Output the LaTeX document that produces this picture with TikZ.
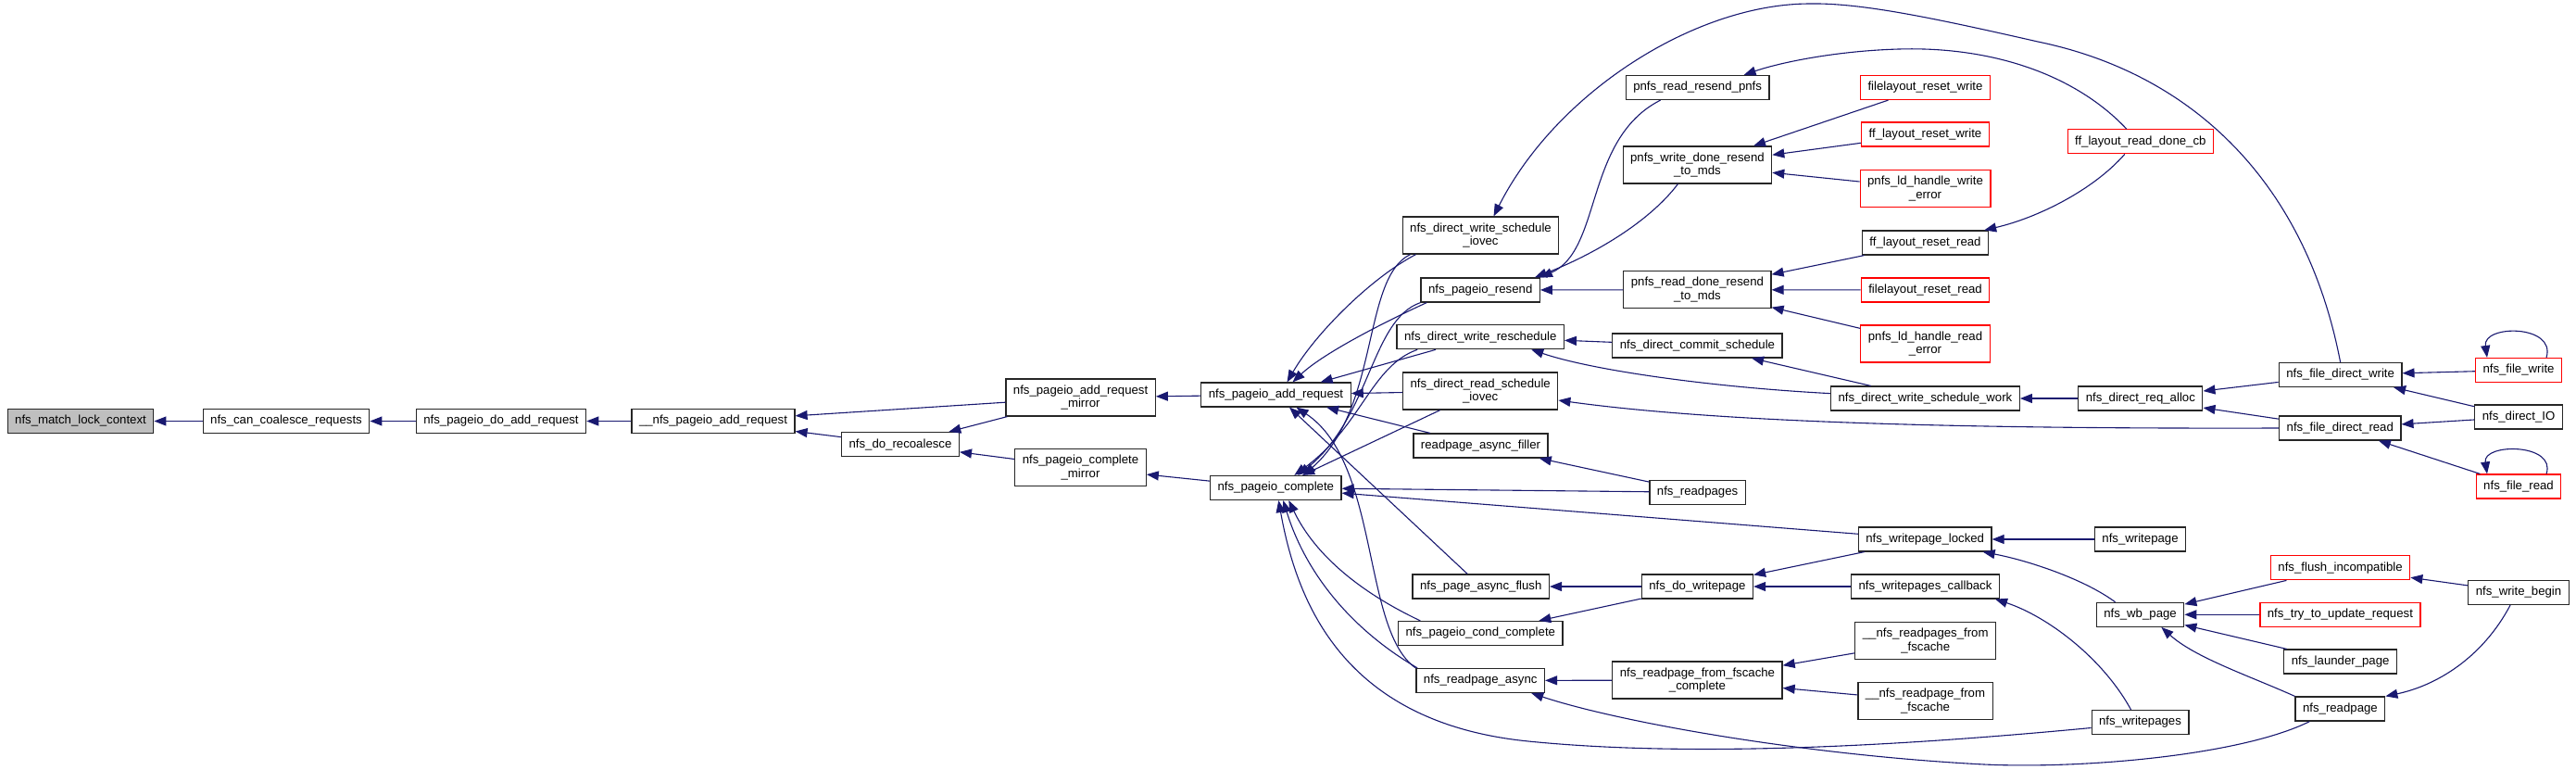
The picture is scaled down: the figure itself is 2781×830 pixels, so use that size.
\documentclass[tikz,border=0pt]{standalone}
\usepackage{fontspec}
\usepackage{tikz}
\usetikzlibrary{arrows.meta}
\newfontfamily\fnfont{Liberation Sans}
\definecolor{edgeblue}{RGB}{25,25,112}
\definecolor{rootgray}{RGB}{191,191,191}
\tikzset{
  fn/.style={draw=black!85, fill=white, line width=1.2pt, rectangle, align=center,
    inner xsep=8pt, inner ysep=2pt, minimum height=26pt,
    font=\fnfont\fontsize{13.2}{14.5}\selectfont},
  fntwo/.style={fn, minimum height=40pt},
  cut/.style={fn, draw=red},
  cuttwo/.style={fntwo, draw=red},
  rootfn/.style={fn, fill=rootgray},
  call/.style={draw=edgeblue, line width=1.1pt, -{Triangle[length=13pt,width=10pt]}}
}

\begin{document}
\begin{tikzpicture}[x=1pt,y=-1pt]
\useasboundingbox (0,0) rectangle (2781,830);
% functions, column by column
\node[rootfn] (match) at (87,454.5) {nfs\_match\_lock\_context};
\node[fn] (can) at (309,454.5) {nfs\_can\_coalesce\_requests};
\node[fn] (doadd) at (541,454.5) {nfs\_pageio\_do\_add\_request};
\node[fn] (uadd) at (770,454.5) {\_\_nfs\_pageio\_add\_request};
\node[fn] (recoal) at (972,479.6) {nfs\_do\_recoalesce};
\node[fntwo] (addmir) at (1166.6,429) {nfs\_pageio\_add\_request\\\_mirror};
\node[fntwo] (compmir) at (1166.5,504.7) {nfs\_pageio\_complete\\\_mirror};
\node[fn] (addreq) at (1377.5,426) {nfs\_pageio\_add\_request};
\node[fn] (complete) at (1377.3,526.5) {nfs\_pageio\_complete};
\node[fntwo] (dwsiovec) at (1598.5,254) {nfs\_direct\_write\_schedule\\\_iovec};
\node[fn] (resend) at (1598.2,313) {nfs\_pageio\_resend};
\node[fn] (dwresched) at (1598.2,363.7) {nfs\_direct\_write\_reschedule};
\node[fntwo] (drsiovec) at (1598.2,422) {nfs\_direct\_read\_schedule\\\_iovec};
\node[fn] (rpfiller) at (1598.5,481) {readpage\_async\_filler};
\node[fn] (pgflush) at (1598.7,633) {nfs\_page\_async\_flush};
\node[fn] (condcomp) at (1598.3,683.5) {nfs\_pageio\_cond\_complete};
\node[fn] (rpasync) at (1598.2,734.5) {nfs\_readpage\_async};
\node[fn] (readresend) at (1832.6,94.5) {pnfs\_read\_resend\_pnfs};
\node[fntwo] (wdone) at (1832.4,178) {pnfs\_write\_done\_resend\\\_to\_mds};
\node[fntwo] (rdone) at (1832.4,312.7) {pnfs\_read\_done\_resend\\\_to\_mds};
\node[fn] (commit) at (1832.4,373) {nfs\_direct\_commit\_schedule};
\node[fn] (readpages) at (1832.6,531.3) {nfs\_readpages};
\node[fn] (dowrite) at (1832.4,633) {nfs\_do\_writepage};
\node[fntwo] (fscomp) at (1832.4,734) {nfs\_readpage\_from\_fscache\\\_complete};
\node[cut] (flwrite) at (2078.5,94.5) {filelayout\_reset\_write};
\node[cut] (ffwrite) at (2078.5,145) {ff\_layout\_reset\_write};
\node[cuttwo] (ldwrite) at (2078.5,203.3) {pnfs\_ld\_handle\_write\\\_error};
\node[fn] (ffread) at (2078.5,262) {ff\_layout\_reset\_read};
\node[cut] (flread) at (2078.5,313) {filelayout\_reset\_read};
\node[cuttwo] (ldread) at (2078.5,371) {pnfs\_ld\_handle\_read\\\_error};
\node[fn] (dwswork) at (2078.4,430) {nfs\_direct\_write\_schedule\_work};
\node[fn] (wplocked) at (2078.2,582) {nfs\_writepage\_locked};
\node[fn] (wpcallback) at (2078.5,633) {nfs\_writepages\_callback};
\node[fntwo] (rpsfs) at (2078.7,691.7) {\_\_nfs\_readpages\_from\\\_fscache};
\node[fntwo] (rpfs) at (2078.5,756.7) {\_\_nfs\_readpage\_from\\\_fscache};
\node[cut] (donecb) at (2310.8,152.8) {ff\_layout\_read\_done\_cb};
\node[fn] (reqalloc) at (2310.8,430) {nfs\_direct\_req\_alloc};
\node[fn] (writepage) at (2310.5,582) {nfs\_writepage};
\node[fn] (wbpage) at (2310.5,663.3) {nfs\_wb\_page};
\node[fn] (writepages) at (2310.5,779.5) {nfs\_writepages};
\node[fn] (fdwrite) at (2526.6,404.5) {nfs\_file\_direct\_write};
\node[fn] (fdread) at (2526.3,462) {nfs\_file\_direct\_read};
\node[cut] (flushinc) at (2526.6,612.8) {nfs\_flush\_incompatible};
\node[cut] (tryupd) at (2526.4,663.3) {nfs\_try\_to\_update\_request};
\node[fn] (launder) at (2526.6,714) {nfs\_launder\_page};
\node[fn] (readpage) at (2526.4,765) {nfs\_readpage};
\node[cut] (filewrite) at (2719,399.5) {nfs\_file\_write};
\node[fn] (directio) at (2719,450) {nfs\_direct\_IO};
\node[cut] (fileread) at (2719,525) {nfs\_file\_read};
\node[fn] (writebegin) at (2719,639.5) {nfs\_write\_begin};
% straight calls, caller/callee
\foreach \a/\b in {can/match, doadd/can, uadd/doadd, addmir/uadd, recoal/uadd,
  addmir/recoal, compmir/recoal, addreq/addmir, complete/compmir,
  dwresched/addreq, drsiovec/addreq, rpfiller/addreq, pgflush/addreq,
  drsiovec/complete, readpages/complete, wplocked/complete,
  rdone/resend, flwrite/wdone, ffwrite/wdone, ldwrite/wdone,
  ffread/rdone, flread/rdone, ldread/rdone,
  commit/dwresched, dwswork/commit, reqalloc/dwswork, fdwrite/reqalloc, fdread/reqalloc,
  filewrite/fdwrite, directio/fdwrite, directio/fdread, fileread/fdread,
  readpages/rpfiller, dowrite/pgflush, dowrite/condcomp, wplocked/dowrite,
  wpcallback/dowrite, writepage/wplocked, fscomp/rpasync, rpsfs/fscomp, rpfs/fscomp,
  flushinc/wbpage, tryupd/wbpage, launder/wbpage, writebegin/flushinc}
  \draw[call] (\a) -- (\b);
% curved calls
\draw[call] (fdwrite.north) .. controls (2490,200) and (2370,80) .. (2200,45)
  .. controls (2090,20) and (2010,3) .. (1954,4)
  .. controls (1830,4) and (1680,100) .. ([xshift=14pt]dwsiovec.north);
\draw[call] ([xshift=-15pt]donecb.north) .. controls (2240,80) and (2150,50) .. (2050,53)
  .. controls (1980,55) and (1920,68) .. ([xshift=50pt]readresend.north);
\draw[call] ([xshift=-40pt]readresend.south) .. controls (1710,150) and (1730,270) .. (resend.north east);
\draw[call] ([xshift=-21pt]wdone.south) .. controls (1780,240) and (1720,275) .. ([xshift=-6pt]resend.north east);
\draw[call] ([xshift=-17pt]donecb.south) .. controls (2260,205) and (2200,235) .. ([xshift=-5pt]ffread.north east);
\draw[call] (dwswork.177) .. controls (1850,418) and (1720,400) .. ([xshift=55pt]dwresched.south);
\draw[call] (fdread.west) .. controls (2100,463) and (1850,455) .. ([yshift=-10pt]drsiovec.east);
\draw[call] ([xshift=-27pt]wbpage.north) .. controls (2250,625) and (2190,605) .. ([xshift=-10pt]wplocked.south east);
\draw[call] ([xshift=-10pt]writepages.north) .. controls (2270,710) and (2210,665) .. ([xshift=-5pt]wpcallback.south east);
\draw[call] (readpage.north west) .. controls (2430,730) and (2370,710) .. ([xshift=-25pt]wbpage.south east);
\draw[call] ([xshift=-9pt]writebegin.south) .. controls (2680,710) and (2630,740) .. (readpage.north east);
\draw[call] ([xshift=-33pt]readpage.south) .. controls (2420,815) and (2250,830) .. (2142,825)
  .. controls (1950,815) and (1750,780) .. ([xshift=55pt]rpasync.south);
\draw[call] ([yshift=-6pt]writepages.west) .. controls (2000,810) and (1800,815) .. (1650,800)
  .. controls (1450,780) and (1400,650) .. ([xshift=3pt]complete.south);
\draw[call] ([xshift=-70pt]dwsiovec.south) .. controls (1480,300) and (1420,360) .. ([xshift=12pt]addreq.north);
\draw[call] ([xshift=-58pt]resend.south) .. controls (1500,345) and (1430,380) .. ([xshift=18pt]addreq.north);
\draw[call] (rpasync.north west) .. controls (1470,680) and (1490,500) .. ([xshift=22pt]addreq.south);
\draw[call] ([xshift=-76pt]dwsiovec.south) .. controls (1470,300) and (1490,440) .. ([xshift=30pt]complete.north);
\draw[call] (resend.south west) .. controls (1480,345) and (1480,450) .. ([xshift=24pt]complete.north);
\draw[call] ([xshift=-68pt]dwresched.south) .. controls (1480,395) and (1470,460) .. ([xshift=20pt]complete.north);
\draw[call] ([xshift=-65pt]condcomp.north) .. controls (1470,640) and (1420,600) .. ([xshift=14pt]complete.south);
\draw[call] ([xshift=-68pt]rpasync.north) .. controls (1460,680) and (1410,620) .. ([xshift=8pt]complete.south);
% recursive calls
\draw[call] ([xshift=30pt]filewrite.north) .. controls (2760,350) and (2680,350) .. ([xshift=-34pt]filewrite.north);
\draw[call] ([xshift=30pt]fileread.north) .. controls (2760,478) and (2680,478) .. ([xshift=-34pt]fileread.north);
\end{tikzpicture}
\end{document}
